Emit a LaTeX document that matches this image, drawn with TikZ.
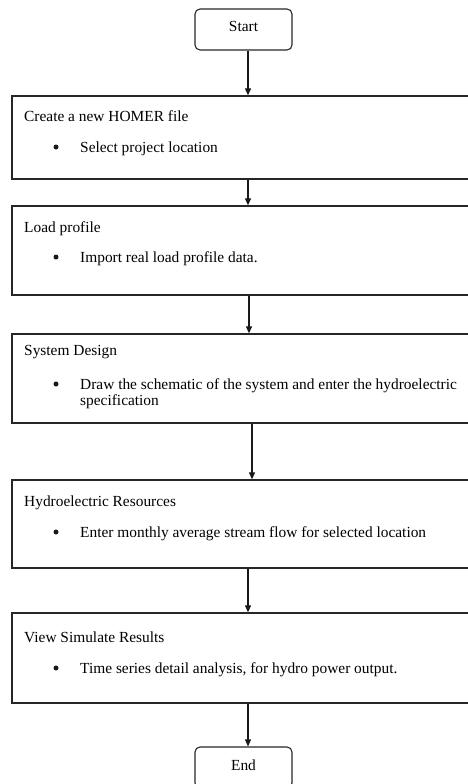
\documentclass[tikz,border=0pt]{standalone}
\usepackage{fontspec}
\setmainfont{Liberation Serif}
\usetikzlibrary{arrows.meta,positioning}

\begin{document}
\begin{tikzpicture}[
    x=1pt, y=-1pt,
    terminal/.style={
        rectangle, rounded corners=5pt,
        draw=black!85, line width=1.1pt,
        minimum width=97pt, minimum height=41pt,
        inner sep=0pt,
    },
    stepbox/.style={
        rectangle,
        draw=black!85, line width=1.3pt,
        minimum width=463pt,
        inner sep=0pt,
    },
    txt/.style={
        anchor=base west, inner sep=0pt,
        font=\fontsize{15.4}{17}\selectfont,
    },
    dot/.style={
        circle, fill=black!90, inner sep=0pt, minimum size=5pt,
    },
    arrow/.style={
        -{Triangle[width=6pt,length=7pt]}, line width=1.1pt, black!90,
    },
]
\useasboundingbox (0,0) rectangle (467,784);

% terminals
\node[terminal] (start) at (243.5, 29.5) {};
\node[txt, anchor=base] at (243.5, 32) {Start};
\node[terminal] (end) at (243.5, 767.5) {};
\node[txt, anchor=base] at (243.5, 770) {End};

% process boxes
\node[stepbox, minimum height=83pt] (homer) at (243.5, 137.5) {};
\node[stepbox, minimum height=89pt] (load) at (243.5, 250.5) {};
\node[stepbox, minimum height=89pt] (design) at (243.5, 378.5) {};
\node[stepbox, minimum height=88pt] (hydro) at (243.5, 524) {};
\node[stepbox, minimum height=90pt] (results) at (243.5, 658) {};

% box texts
\node[txt] (homer-t) at (24, 121) {Create a new HOMER file};
\node[dot] (homer-d) at (56, 147) {};
\node[txt] (homer-i) at (80, 152) {Select project location};

\node[txt] (load-t) at (24, 232) {Load profile};
\node[dot] (load-d) at (56, 257) {};
\node[txt] (load-i) at (80, 262) {Import real load profile data.};

\node[txt] (design-t) at (24, 355) {System Design};
\node[dot] (design-d) at (56, 384) {};
\node[txt] (design-i) at (80, 389) {Draw the schematic of the system and enter the hydroelectric};
\node[txt] (design-j) at (80, 405) {specification};

\node[txt] (hydro-t) at (24, 506) {Hydroelectric Resources};
\node[dot] (hydro-d) at (56, 532) {};
\node[txt] (hydro-i) at (80, 537) {Enter monthly average stream flow for selected location};

\node[txt] (results-t) at (24, 642) {View Simulate Results};
\node[dot] (results-d) at (56, 668) {};
\node[txt] (results-i) at (80, 673) {Time series detail analysis, for hydro power output.};

% arrows
\draw[arrow] ([xshift=4.5pt]start.south) -- ([xshift=4.5pt]start.south |- homer.north);
\draw[arrow] ([xshift=4.5pt]homer.south) -- ([xshift=4.5pt]homer.south |- load.north);
\draw[arrow] ([xshift=5.5pt]load.south) -- ([xshift=5.5pt]load.south |- design.north);
\draw[arrow] ([xshift=8.5pt]design.south) -- ([xshift=8.5pt]design.south |- hydro.north);
\draw[arrow] ([xshift=4.5pt]hydro.south) -- ([xshift=4.5pt]hydro.south |- results.north);
\draw[arrow] ([xshift=4.5pt]results.south) -- ([xshift=4.5pt]results.south |- end.north);

\end{tikzpicture}
\end{document}
